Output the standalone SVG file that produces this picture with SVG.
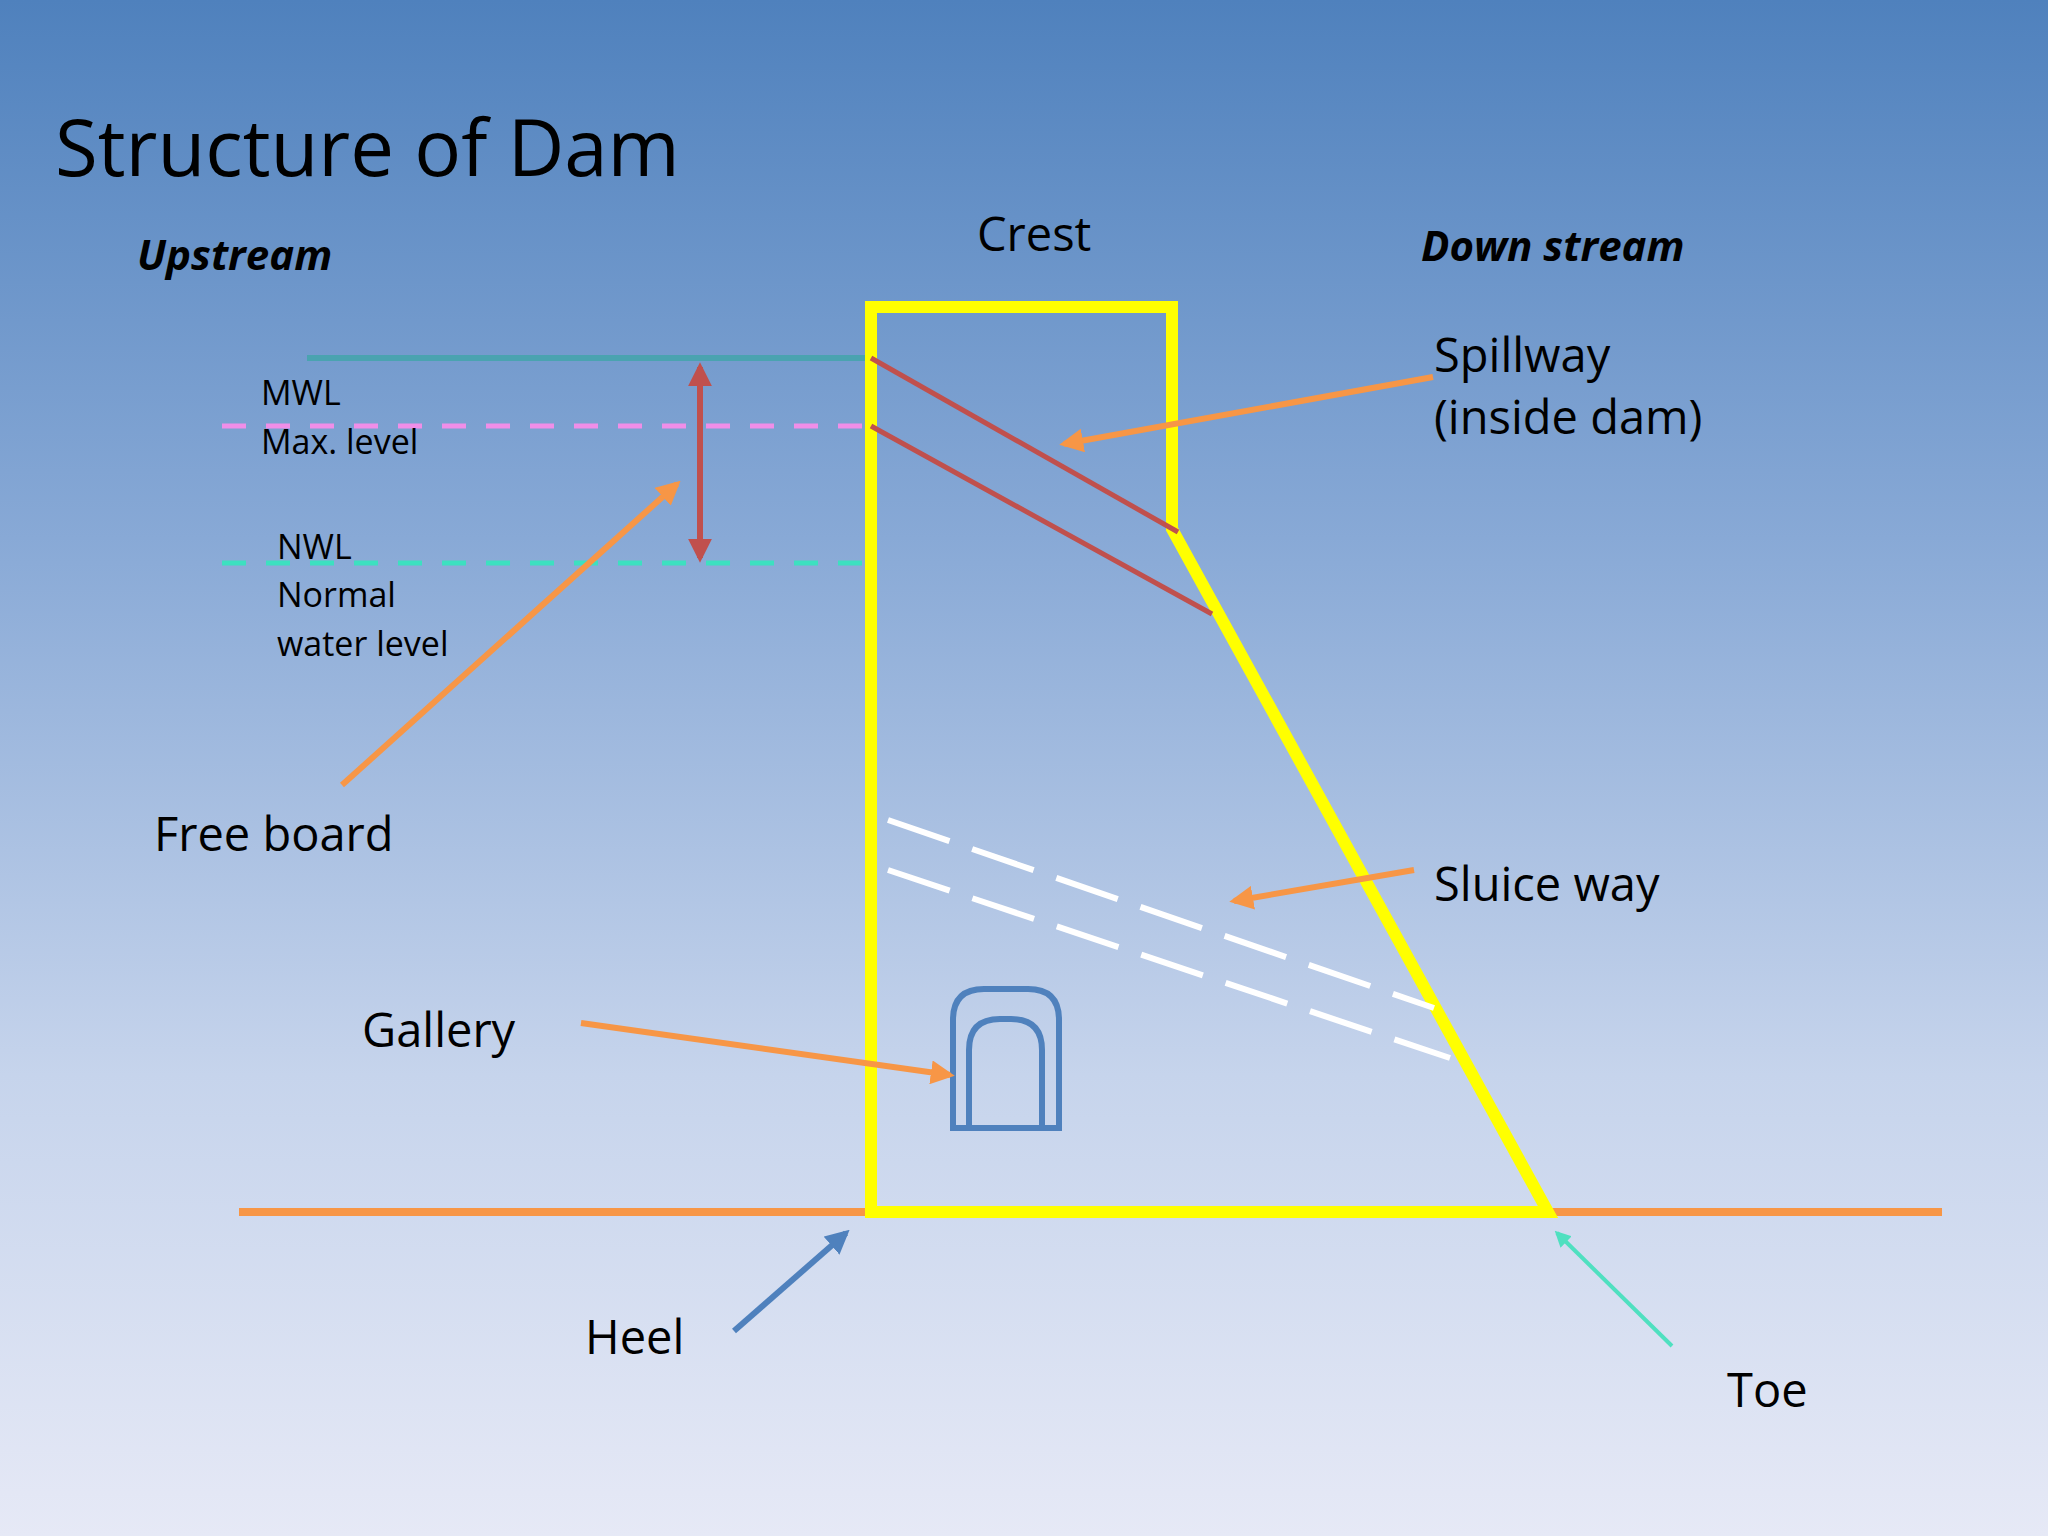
<svg xmlns="http://www.w3.org/2000/svg" width="2048" height="1536" viewBox="0 0 2048 1536">
<defs>
<linearGradient id="bg" x1="0" y1="0" x2="0" y2="1">
<stop offset="0" stop-color="#4f81bd"/>
<stop offset="0.35" stop-color="#88a9d6"/>
<stop offset="0.7" stop-color="#c6d4ec"/>
<stop offset="1" stop-color="#e6e9f6"/>
</linearGradient>
<marker id="ao" viewBox="0 0 10 10" refX="8" refY="5" markerWidth="4" markerHeight="4" orient="auto"><path d="M0,0 L10,5 L0,10 z" fill="#f79646"/></marker>
<marker id="ar" viewBox="0 0 10 10" refX="8" refY="5" markerWidth="4" markerHeight="4" orient="auto-start-reverse"><path d="M0,0 L10,5 L0,10 z" fill="#c0504d"/></marker>
<marker id="ab" viewBox="0 0 10 10" refX="8" refY="5" markerWidth="4" markerHeight="4" orient="auto"><path d="M0,0 L10,5 L0,10 z" fill="#4f81bd"/></marker>
<marker id="am" viewBox="0 0 10 10" refX="8" refY="5" markerWidth="4" markerHeight="4" orient="auto"><path d="M0,0 L10,5 L0,10 z" fill="#4fe0c0"/></marker>
</defs>
<style>
text{font-family:"Open Sans","Noto Sans","Liberation Sans",sans-serif;fill:#000}
.lbl{font-size:47px}
.sm{font-size:34px}
.bi{font-size:42px;font-weight:bold;font-style:italic}
.ao{stroke:#f79646;stroke-width:6;fill:none;marker-end:url(#ao)}
</style>
<rect width="2048" height="1536" fill="url(#bg)"/>
<text x="55" y="176" font-size="78">Structure of Dam</text>
<text class="bi" x="137" y="270">Upstream</text>
<text class="bi" x="1421" y="261">Down stream</text>
<text class="lbl" x="977" y="251">Crest</text>
<g id="ground"><line x1="239" y1="1212" x2="1942" y2="1212" stroke="#f79646" stroke-width="8"/></g>
<g id="levels">
<line x1="307" y1="358" x2="871" y2="358" stroke="#4aa3b0" stroke-width="6"/>
<line x1="222" y1="426" x2="871" y2="426" stroke="#f08ee8" stroke-width="5" stroke-dasharray="24,20"/>
<line x1="222" y1="563" x2="871" y2="563" stroke="#3de0c0" stroke-width="5" stroke-dasharray="24,20"/>
</g>
<g id="dam"><polygon points="871,307 1172,307 1172,529 1548,1212 871,1212" fill="none" stroke="#ffff00" stroke-width="12"/></g>
<g id="spillway">
<line x1="871" y1="358" x2="1178" y2="532" stroke="#c0504d" stroke-width="5"/>
<line x1="871" y1="426" x2="1212" y2="614" stroke="#c0504d" stroke-width="5"/>
</g>
<g id="sluice">
<line x1="888" y1="820" x2="1434" y2="1008" stroke="#fff" stroke-width="6" stroke-dasharray="65,24"/>
<line x1="888" y1="870" x2="1450" y2="1058" stroke="#fff" stroke-width="6" stroke-dasharray="65,24"/>
</g>
<g id="gallery" fill="none" stroke="#4f81bd" stroke-width="6">
<path d="M953,1128 L953,1020 Q953,989 984,989 L1028,989 Q1059,989 1059,1020 L1059,1128 Z"/>
<path d="M969,1128 L969,1050 Q969,1019 1000,1019 L1011,1019 Q1042,1019 1042,1050 L1042,1128"/>
</g>
<g id="connectors">
<line x1="700" y1="367" x2="700" y2="558" stroke="#c0504d" stroke-width="6" marker-start="url(#ar)" marker-end="url(#ar)"/>
<line class="ao" x1="1433" y1="377" x2="1064" y2="444"/>
<line class="ao" x1="342" y1="785" x2="677" y2="484"/>
<line class="ao" x1="1414" y1="870" x2="1234" y2="901"/>
<line class="ao" x1="581" y1="1023" x2="950" y2="1075"/>
<line x1="734" y1="1331" x2="846" y2="1233" stroke="#4f81bd" stroke-width="6" marker-end="url(#ab)"/>
<line x1="1672" y1="1346" x2="1557" y2="1233" stroke="#4fe0c0" stroke-width="4" marker-end="url(#am)"/>
</g>
<g id="labels">
<text class="lbl" x="1434" y="372">Spillway</text>
<text class="lbl" x="1434" y="434">(inside dam)</text>
<text class="sm" x="261" y="405">MWL</text>
<text class="sm" x="261" y="454">Max. level</text>
<text class="sm" x="277" y="559">NWL</text>
<text class="sm" x="277" y="607">Normal</text>
<text class="sm" x="277" y="656">water level</text>
<text class="lbl" x="154" y="851">Free board</text>
<text class="lbl" x="1434" y="901">Sluice way</text>
<text class="lbl" x="362" y="1047">Gallery</text>
<text class="lbl" x="585" y="1354">Heel</text>
<text class="lbl" x="1727" y="1407">Toe</text>
</g>
</svg>
